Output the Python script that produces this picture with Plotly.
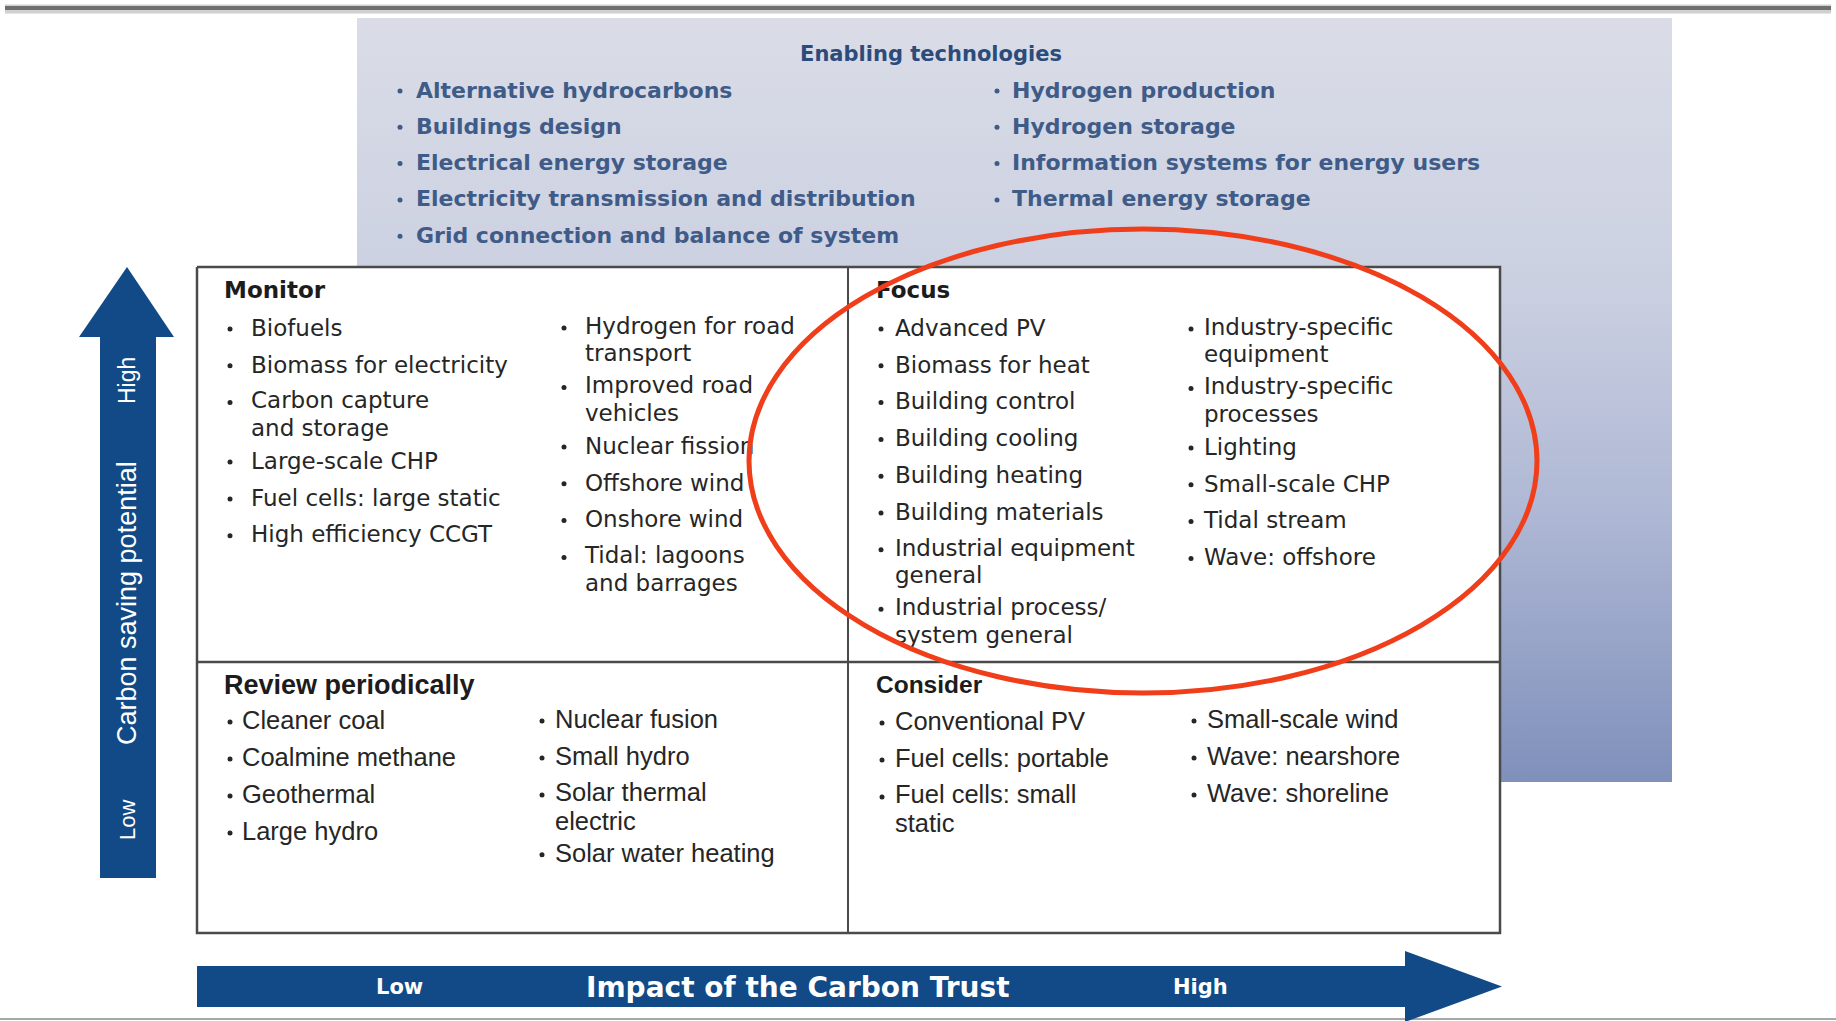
import plotly.graph_objects as go

# ---------------- content ----------------
enabling_title = "Enabling technologies"
enabling_left = ["Alternative hydrocarbons", "Buildings design", "Electrical energy storage",
                 "Electricity transmission and distribution", "Grid connection and balance of system"]
enabling_right = ["Hydrogen production", "Hydrogen storage",
                  "Information systems for energy users", "Thermal energy storage"]

quadrant_titles = ["Monitor", "Focus", "Review periodically", "Consider"]

monitor_col1 = ["Biofuels", "Biomass for electricity", "Carbon capture<br>and storage",
                "Large-scale CHP", "Fuel cells: large static", "High efficiency CCGT"]
monitor_col2 = ["Hydrogen for road<br>transport", "Improved road<br>vehicles", "Nuclear fission",
                "Offshore wind", "Onshore wind", "Tidal: lagoons<br>and barrages"]
focus_col1 = ["Advanced PV", "Biomass for heat", "Building control", "Building cooling",
              "Building heating", "Building materials", "Industrial equipment<br>general",
              "Industrial process/<br>system general"]
focus_col2 = ["Industry-specific<br>equipment", "Industry-specific<br>processes", "Lighting",
              "Small-scale CHP", "Tidal stream", "Wave: offshore"]
review_col1 = ["Cleaner coal", "Coalmine methane", "Geothermal", "Large hydro"]
review_col2 = ["Nuclear fusion", "Small hydro", "Solar thermal<br>electric", "Solar water heating"]
consider_col1 = ["Conventional PV", "Fuel cells: portable", "Fuel cells: small<br>static"]
consider_col2 = ["Small-scale wind", "Wave: nearshore", "Wave: shoreline"]

y_axis_labels = ["Low", "Carbon saving potential", "High"]
x_axis_labels = ["Low", "Impact of the Carbon Trust", "High"]

# ---------------- geometry (pixel space) ----------------
W, H = 1836, 1021
PANEL = (357, 18, 1672, 782)
BOX = (197, 267, 1500, 933)
MID_X, MID_Y = 848, 662
WRAP = 22.7          # extra advance that a wrapped item takes in the list
DY = 3
ARROW_BLUE = "#114a86"

# family, size, colour, weight, line pitch inside wrapped items
styles = {
    "enabling": ("DejaVu Sans", 22, "#3f5b88", "bold", 27.0),
    "upper": ("DejaVu Sans", 23, "#262626", "normal", 27.5),
    "lower": ("Liberation Sans", 25.5, "#262626", "normal", 28.8),
}

columns = [
    (enabling_left, 400, 416, 89, 36.3, "enabling"),
    (enabling_right, 997, 1012, 89, 36.3, "enabling"),
    (monitor_col1, 230, 251, 327, 36.8, "upper"),
    (monitor_col2, 564, 585, 326, 36.8, "upper"),
    (focus_col1, 881, 895, 327, 36.8, "upper"),
    (focus_col2, 1191, 1204, 327, 36.8, "upper"),
    (review_col1, 230, 242, 720, 37.0, "lower"),
    (review_col2, 542, 555, 719, 37.0, "lower"),
    (consider_col1, 882, 895, 721, 37.0, "lower"),
    (consider_col2, 1194, 1207, 719, 37.0, "lower"),
]

title_pos = [(224, 289, "DejaVu Sans", 23), (876, 289, "DejaVu Sans", 23),
             (224, 684, "Liberation Sans", 27), (876, 684, "Liberation Sans", 24.5)]

fig = go.Figure()

# gradient background panel
px0, py0, px1, py1 = PANEL
fig.add_trace(go.Scatter(
    x=[px0, px1, px1, px0, px0], y=[py0, py0, py1, py1, py0],
    mode="lines", line=dict(width=0), fill="toself",
    fillgradient=dict(type="vertical",
                      colorscale=[[0, "#dadde7"], [0.35, "#cbd0e1"], [0.65, "#aeb7d4"], [1, "#7f90bb"]],
                      start=py0, stop=py1),
    hoverinfo="skip", showlegend=False))

# white quadrant box
bx0, by0, bx1, by1 = BOX
fig.add_trace(go.Scatter(
    x=[bx0, bx1, bx1, bx0, bx0], y=[by0, by0, by1, by1, by0],
    mode="lines", line=dict(width=2.5, color="#4a4a4a"), fill="toself", fillcolor="white",
    hoverinfo="skip", showlegend=False))

# items text
groups = {k: dict(sx=[], sy=[], st=[], mx=[], my=[], mt=[], bx=[], by=[]) for k in styles}
for items, bxp, txp, y0, step, key in columns:
    F, pitch = styles[key][1], styles[key][4]
    small = pitch / 1.3
    y = y0
    g = groups[key]
    for it in items:
        lines = it.split("<br>")
        n = len(lines)
        g["bx"].append(bxp)
        g["by"].append(y - 1 + DY)
        if n == 1:
            g["sx"].append(txp)
            g["sy"].append(y + DY)
            g["st"].append(it)
        else:
            num = 1 + (n - 1) * 1.3
            g["mx"].append(txp)
            g["my"].append(y + DY - 1 + 0.25 * F - 0.75 * small + num * small / 2)
            g["mt"].append("<br>".join("<span style='font-size:%spx'>%s</span>" % (F, ln) for ln in lines))
        y += step + WRAP * (n - 1)

for key, g in groups.items():
    fam, size, col, wt, pitch = styles[key]
    fig.add_trace(go.Scatter(
        x=g["sx"], y=g["sy"], text=g["st"], mode="text", textposition="middle right",
        textfont=dict(family=fam, size=size, color=col, weight=wt), hoverinfo="skip", showlegend=False))
    if g["mx"]:
        fig.add_trace(go.Scatter(
            x=g["mx"], y=g["my"], text=g["mt"], mode="text", textposition="middle right",
            textfont=dict(family=fam, size=pitch / 1.3, color=col, weight=wt),
            hoverinfo="skip", showlegend=False))
    fig.add_trace(go.Scatter(
        x=g["bx"], y=g["by"], mode="markers",
        marker=dict(size=5, color=col, symbol="circle"), hoverinfo="skip", showlegend=False))

# quadrant titles
for (tx, ty, fam, size), title in zip(title_pos, quadrant_titles):
    fig.add_trace(go.Scatter(
        x=[tx], y=[ty + DY], text=[title], mode="text", textposition="middle right",
        textfont=dict(family=fam, size=size, color="#1c1c1c", weight="bold"),
        hoverinfo="skip", showlegend=False))

# enabling title
fig.add_trace(go.Scatter(
    x=[931], y=[53 + DY], text=[enabling_title], mode="text", textposition="middle center",
    textfont=dict(family="DejaVu Sans", size=21, color="#2c4b7b", weight="bold"),
    hoverinfo="skip", showlegend=False))

shapes = []
# top rule with soft shadow
shapes.append(dict(type="line", x0=5, x1=1831, y0=9, y1=9, line=dict(color="#d0d0d0", width=9), layer="above"))
shapes.append(dict(type="line", x0=5, x1=1831, y0=8, y1=8, line=dict(color="#6f6f6f", width=4), layer="above"))
# bottom rule
shapes.append(dict(type="line", x0=0, x1=W, y0=1019, y1=1019, line=dict(color="#a8a8a8", width=2), layer="above"))
# quadrant dividers
shapes.append(dict(type="line", x0=MID_X, x1=MID_X, y0=by0, y1=by1, line=dict(color="#4a4a4a", width=2), layer="above"))
shapes.append(dict(type="line", x0=bx0, x1=bx1, y0=MID_Y, y1=MID_Y, line=dict(color="#4a4a4a", width=2.5), layer="above"))
# vertical arrow
shapes.append(dict(type="path",
                   path="M100,878 L100,337 L79,337 L127,267 L174,337 L156,337 L156,878 Z",
                   fillcolor=ARROW_BLUE, line=dict(width=0), layer="above"))
# horizontal arrow
shapes.append(dict(type="path",
                   path="M197,966 L1405,966 L1405,951 L1502,986.5 L1405,1022 L1405,1007 L197,1007 Z",
                   fillcolor=ARROW_BLUE, line=dict(width=0), layer="above"))
# red ellipse
shapes.append(dict(type="circle", x0=749, x1=1537, y0=229, y1=693,
                   line=dict(color="#f03e1b", width=5), layer="above"))

annotations = []
for lab, yy, fs in zip(y_axis_labels, [820, 603, 381], [22, 27, 23]):
    annotations.append(dict(x=127, y=yy, xref="x", yref="y", text=lab, showarrow=False, textangle=-90,
                            font=dict(family="Liberation Sans", size=fs, color="white"),
                            xanchor="center", yanchor="middle"))
for lab, xx, fs in zip(x_axis_labels, [399, 798, 1200], [21, 28, 21]):
    annotations.append(dict(x=xx, y=987, xref="x", yref="y", text=lab, showarrow=False,
                            font=dict(family="DejaVu Sans", size=fs, color="white", weight="bold"),
                            xanchor="center", yanchor="middle"))

fig.update_layout(
    width=W, height=H, margin=dict(l=0, r=0, t=0, b=0),
    paper_bgcolor="white", plot_bgcolor="white",
    xaxis=dict(range=[0, W], visible=False, fixedrange=True),
    yaxis=dict(range=[H, 0], visible=False, fixedrange=True),
    shapes=shapes, annotations=annotations, showlegend=False,
)

fig.write_html("out.html", config={"displayModeBar": False},
               post_script="document.body.style.margin='0';document.body.style.overflow='hidden';")
